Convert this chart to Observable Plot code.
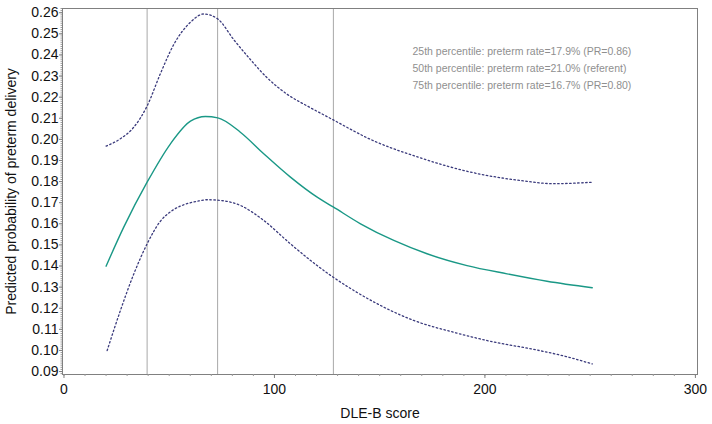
<!DOCTYPE html>
<html><head><meta charset="utf-8">
<script src="https://cdn.jsdelivr.net/npm/d3@7"></script>
<script src="https://cdn.jsdelivr.net/npm/@observablehq/plot@0.6"></script>
<style>body{margin:0;background:#fff}#chart{width:712px;height:424px}</style>
</head><body><div id="chart"></div>
<script>
// Predicted probability (middle estimate)
const midX = [20, 28.4, 39.5, 50.6, 60.1, 67.2, 73.1, 83.8, 94.9, 107.6, 120.3, 127.9, 140.9, 156.7, 172.5, 191.5, 210.5, 229.5, 251];
const midY = [0.1399, 0.1584, 0.1797, 0.1979, 0.2086, 0.2108, 0.2102, 0.2034, 0.1932, 0.1821, 0.1726, 0.1680, 0.1600, 0.1521, 0.1458, 0.1402, 0.1363, 0.1328, 0.1297];
// Upper confidence bound
const upX = [20, 26.8, 33.2, 39.5, 45.8, 52.2, 60.1, 66.4, 73.1, 80.7, 88.6, 96.5, 106, 117.1, 128, 145.6, 169.4, 193.1, 216.9, 232.7, 251];
const upY = [0.1968, 0.2003, 0.2058, 0.2158, 0.2311, 0.2450, 0.2555, 0.2594, 0.2570, 0.2472, 0.2378, 0.2292, 0.2214, 0.2150, 0.2092, 0.2000, 0.1912, 0.1845, 0.1805, 0.1790, 0.1797];
// Lower confidence bound
const loX = [20.5, 26.8, 33.2, 39.5, 45.8, 51, 56.9, 63, 68, 73.1, 83.8, 94.9, 107.6, 120.3, 127.9, 137.7, 150.4, 166.2, 185.2, 204.2, 223.2, 239, 251];
const loY = [0.0999, 0.1189, 0.1363, 0.1505, 0.1612, 0.1660, 0.1690, 0.1706, 0.1714, 0.1712, 0.1687, 0.1616, 0.1505, 0.1402, 0.1347, 0.1284, 0.1213, 0.1142, 0.1086, 0.1040, 0.1005, 0.0970, 0.0936];
// Percentile reference lines (DLE-B score)
const percentiles = [39.5, 73, 128];
const notes = [
  "25th percentile: preterm rate=17.9% (PR=0.86)",
  "50th percentile: preterm rate=21.0% (referent)",
  "75th percentile: preterm rate=16.7% (PR=0.80)"
];
const xTicks = [0, 100, 200, 300];
const yTicks = [0.09,0.10,0.11,0.12,0.13,0.14,0.15,0.16,0.17,0.18,0.19,0.20,0.21,0.22,0.23,0.24,0.25,0.26];

const mid = midX.map((x, i) => ({x, y: midY[i]}));
const up = upX.map((x, i) => ({x, y: upY[i]}));
const lo = loX.map((x, i) => ({x, y: loY[i]}));

const font = "'Liberation Sans', Arial, sans-serif";
const chart = Plot.plot({
  width: 712, height: 424,
  marginLeft: 62, marginRight: 15, marginTop: 8, marginBottom: 50,
  style: {fontFamily: font, fontSize: "14px", background: "#fff", color: "#111"},
  x: {domain: [-0.7, 301]},
  y: {domain: [0.0886, 0.262]},
  marks: [
    Plot.ruleX(percentiles, {stroke: "#a8a8a8", strokeWidth: 1}),
    Plot.line(up, {x: "x", y: "y", curve: "monotone-x", stroke: "#3a3a7c", strokeWidth: 1.3, strokeDasharray: "1.5,2.5"}),
    Plot.line(lo, {x: "x", y: "y", curve: "monotone-x", stroke: "#3a3a7c", strokeWidth: 1.3, strokeDasharray: "1.5,2.5"}),
    Plot.line(mid, {x: "x", y: "y", curve: "monotone-x", stroke: "#1a9886", strokeWidth: 1.4}),
    Plot.frame({stroke: "#808080"}),
    Plot.axisX({ticks: d3.range(0, 301, 10), tickSize: 2, stroke: "#999", tickFormat: () => "", label: null}),
    Plot.axisX({ticks: xTicks, tickSize: 4, tickPadding: 6, stroke: "#808080", fill: "#111", fontSize: 14,
      tickFormat: d3.format("d"), label: "DLE-B score", labelAnchor: "center", labelArrow: "none", labelOffset: 43}),
    Plot.axisY({ticks: d3.range(89, 263).map(d => d / 1000), tickSize: 1.5, stroke: "#999", tickFormat: () => "", label: null}),
    Plot.axisY({ticks: yTicks, tickSize: 3, tickPadding: 1, stroke: "#808080", fill: "#111", fontSize: 14,
      tickFormat: d3.format(".2f"), label: "Predicted probability of preterm delivery", labelAnchor: "center", labelArrow: "none", labelOffset: 56}),
    Plot.text([notes.join("\n")], {frameAnchor: "top-left", dx: 350, dy: 35, textAnchor: "start", lineAnchor: "top",
      lineHeight: 1.6, fill: "#8f8f8f", fontSize: 10.5})
  ]
});
document.getElementById("chart").append(chart);
</script>
</body></html>
